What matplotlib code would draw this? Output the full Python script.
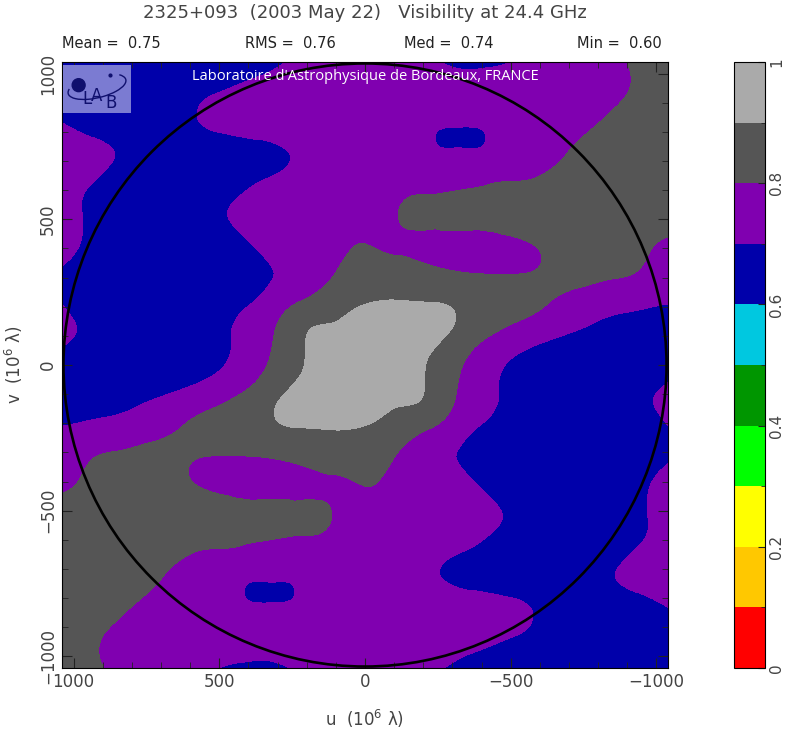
import numpy as np
import matplotlib
matplotlib.use("Agg")
import matplotlib.pyplot as plt
import matplotlib.tri as mtri
from matplotlib.colors import ListedColormap, BoundaryNorm
from matplotlib.patches import Circle, Arc, Ellipse
from matplotlib.ticker import MultipleLocator

# sample grid of the map: 21 x 21, u from +1040 (left) to -1040 (right),
# v from +1040 (top) to -1040 (bottom)
u_grid = np.linspace(1040, -1040, 21)
v_grid = np.linspace(1040, -1040, 21)

# visibility amplitude, upper half (v = +1040 ... 0), left to right
vis_top = np.array([
    [0.64, 0.64, 0.64, 0.64, 0.64, 0.64, 0.65, 0.685, 0.72, 0.74, 0.74, 0.73, 0.72, 0.68, 0.68, 0.705, 0.73, 0.75, 0.78, 0.81, 0.83],
    [0.64, 0.64, 0.64, 0.65, 0.67, 0.695, 0.725, 0.75, 0.76, 0.76, 0.76, 0.76, 0.76, 0.76, 0.76, 0.75, 0.75, 0.76, 0.78, 0.81, 0.84],
    [0.70, 0.67, 0.65, 0.64, 0.67, 0.715, 0.74, 0.76, 0.77, 0.77, 0.77, 0.76, 0.74, 0.72, 0.73, 0.76, 0.77, 0.78, 0.81, 0.84, 0.85],
    [0.74, 0.72, 0.69, 0.65, 0.64, 0.65, 0.66, 0.68, 0.72, 0.75, 0.76, 0.76, 0.74, 0.72, 0.73, 0.76, 0.78, 0.81, 0.84, 0.86, 0.86],
    [0.73, 0.70, 0.66, 0.64, 0.64, 0.65, 0.68, 0.72, 0.74, 0.75, 0.76, 0.77, 0.78, 0.785, 0.795, 0.805, 0.82, 0.84, 0.85, 0.86, 0.85],
    [0.735, 0.685, 0.65, 0.64, 0.64, 0.68, 0.72, 0.75, 0.76, 0.77, 0.77, 0.795, 0.82, 0.83, 0.84, 0.85, 0.85, 0.86, 0.87, 0.86, 0.84],
    [0.73, 0.68, 0.64, 0.63, 0.64, 0.66, 0.69, 0.73, 0.76, 0.78, 0.80, 0.79, 0.78, 0.77, 0.765, 0.785, 0.815, 0.83, 0.83, 0.82, 0.79],
    [0.69, 0.66, 0.64, 0.63, 0.63, 0.65, 0.67, 0.70, 0.74, 0.80, 0.83, 0.84, 0.83, 0.81, 0.80, 0.80, 0.81, 0.82, 0.81, 0.795, 0.76],
    [0.70, 0.66, 0.64, 0.63, 0.64, 0.66, 0.69, 0.75, 0.82, 0.86, 0.90, 0.91, 0.905, 0.89, 0.85, 0.83, 0.80, 0.76, 0.73, 0.715, 0.70],
    [0.725, 0.68, 0.65, 0.64, 0.64, 0.66, 0.73, 0.80, 0.895, 0.92, 0.95, 0.96, 0.935, 0.88, 0.81, 0.76, 0.72, 0.69, 0.67, 0.66, 0.67],
    [0.66, 0.65, 0.64, 0.64, 0.65, 0.68, 0.74, 0.82, 0.90, 0.95, 0.97, 0.95, 0.90, 0.82, 0.74, 0.68, 0.65, 0.64, 0.64, 0.65, 0.66],
])
# lower half: the map is point symmetric, V(-u,-v) = V(u,v)
vis = np.vstack([vis_top, vis_top[-2::-1, ::-1]])

# the two small blue islands (and their mirror), one sample per grid cell
extra_u = [-281, -384, 281, 384]
extra_v = [776, 776, -776, -776]
extra_vis = [0.68, 0.68, 0.68, 0.68]

levels = [0, 0.1, 0.2, 0.3, 0.4, 0.5, 0.6, 0.7, 0.8, 0.9, 1.0]
band_colors = ['#ff0000', '#ffc800', '#ffff00', '#00ff00', '#009600',
               '#00c8e0', '#0000aa', '#8000b0', '#555555', '#aaaaaa']
cbar_ticks = [0, 0.2, 0.4, 0.6, 0.8, 1.0]

title = '2325+093  (2003 May 22)   Visibility at 24.4 GHz'
stats = [('Mean =  0.75', 62), ('RMS =  0.76', 245), ('Med =  0.74', 404), ('Min =  0.60', 577)]

cmap = ListedColormap(band_colors)
cmap.set_over(band_colors[-1])
cmap.set_under(band_colors[0])
norm = BoundaryNorm(levels, cmap.N)

W, H = 786, 735
fig = plt.figure(figsize=(W / 100, H / 100), dpi=100)
ax = fig.add_axes([62 / W, 1 - 668 / H, 606 / W, 606 / H])

# triangulation of the grid; a cell holding an island sample is split in four around it
n = len(u_grid)
U, V = np.meshgrid(u_grid, v_grid)
x = np.concatenate([U.ravel(), extra_u])
y = np.concatenate([V.ravel(), extra_v])
z = np.concatenate([vis.ravel(), extra_vis])
step = abs(u_grid[1] - u_grid[0])
cell_of_extra = {}
for k in range(len(extra_u)):
    ci = int((u_grid[0] - extra_u[k]) // step)
    cj = int((v_grid[0] - extra_v[k]) // step)
    cell_of_extra[(cj, ci)] = n * n + k
triangles = []
for j in range(n - 1):
    for i in range(n - 1):
        a, b = j * n + i, j * n + i + 1
        c, d = (j + 1) * n + i + 1, (j + 1) * n + i
        if (j, i) in cell_of_extra:
            e = cell_of_extra[(j, i)]
            triangles += [[a, b, e], [b, c, e], [c, d, e], [d, a, e]]
        elif (i + j) % 2 == 0:
            triangles += [[a, b, c], [a, c, d]]
        else:
            triangles += [[a, b, d], [b, c, d]]
tri = mtri.Triangulation(x, y, triangles)
interp = mtri.CubicTriInterpolator(tri, z, kind='min_E')
tri_f, z_f = mtri.UniformTriRefiner(tri).refine_field(z, triinterpolator=interp, subdiv=4)
ax.tricontourf(tri_f, z_f, levels=levels, cmap=cmap, norm=norm, extend='both')

ax.add_patch(Circle((0, 0), 1035, fill=False, color='black', lw=1.9, zorder=3))

ax.set_xlim(1040, -1040)
ax.set_ylim(-1040, 1040)
ax.set_xticks([1000, 500, 0, -500, -1000])
ax.set_yticks([-1000, -500, 0, 500, 1000])
ax.xaxis.set_minor_locator(MultipleLocator(100))
ax.yaxis.set_minor_locator(MultipleLocator(100))
ax.set_xticklabels(['1000', '500', '0', '\u2212500', '\u22121000'])
ax.set_yticklabels(['\u22121000', '\u2212500', '0', '500', '1000'], rotation=90, va='center')
ax.tick_params(which='both', direction='in', top=True, right=True, color='#222222',
               labelcolor='#444444', labelsize=12)
ax.tick_params(which='major', length=7)
ax.tick_params(which='minor', length=4)
for s in ax.spines.values():
    s.set_linewidth(0.8)
ax.set_xlabel('u  (10$^6$ \u03bb)', fontsize=12, color='#444444', labelpad=12)
ax.set_ylabel('v  (10$^6$ \u03bb)', fontsize=12, color='#444444', labelpad=10)

fig.text(365 / W, 1 - 13 / H, title, ha='center', va='center', fontsize=13, color='#444444')
for txt, px in stats:
    fig.text(px / W, 1 - 44 / H, txt, ha='left', va='center', fontsize=10.5, color='#222222')

# lab logo and banner
lax = fig.add_axes([63 / W, 1 - 113 / H, 68 / W, 48 / H])
lax.set_facecolor('#7b7bd2')
lax.set_xlim(0, 1)
lax.set_ylim(0, 1)
lax.set_xticks([])
lax.set_yticks([])
for s in lax.spines.values():
    s.set_visible(False)
lax.add_patch(Ellipse((0.23, 0.58), 0.19, 0.27, color='#10106e'))
lax.add_patch(Arc((0.5, 0.55), 0.9, 0.45, angle=22, theta1=165, theta2=375,
                  color='#10106e', lw=1.0))
lax.plot([0.69], [0.8], marker='o', ms=2, color='#10106e')
lax.text(0.35, 0.3, 'L', ha='center', va='center', fontsize=12, color='#10106e')
lax.text(0.5, 0.36, 'A', ha='center', va='center', fontsize=12, color='#10106e')
lax.text(0.7, 0.2, 'B', ha='center', va='center', fontsize=12, color='#10106e')

fig.text(192 / W, 1 - 76 / H, "Laboratoire d'Astrophysique de Bordeaux, FRANCE",
         ha='left', va='center', fontsize=10.5, color='white', family='Open Sans')

# colour scale
cax = fig.add_axes([734 / W, 1 - 668 / H, 31 / W, 606 / H])
sm = plt.cm.ScalarMappable(cmap=cmap, norm=norm)
cb = fig.colorbar(sm, cax=cax, ticks=cbar_ticks, boundaries=levels, spacing='proportional')
cb.ax.set_yticklabels(['0', '0.2', '0.4', '0.6', '0.8', '1'], rotation=90, va='center')
cb.ax.yaxis.set_minor_locator(MultipleLocator(0.1))
cb.ax.tick_params(which='both', direction='in', color='#222222', labelcolor='#444444',
                  labelsize=11, pad=3)
cb.ax.tick_params(which='major', length=5)
cb.ax.tick_params(which='minor', length=3)
cb.outline.set_linewidth(0.8)

fig.savefig('out.png', dpi=100)
